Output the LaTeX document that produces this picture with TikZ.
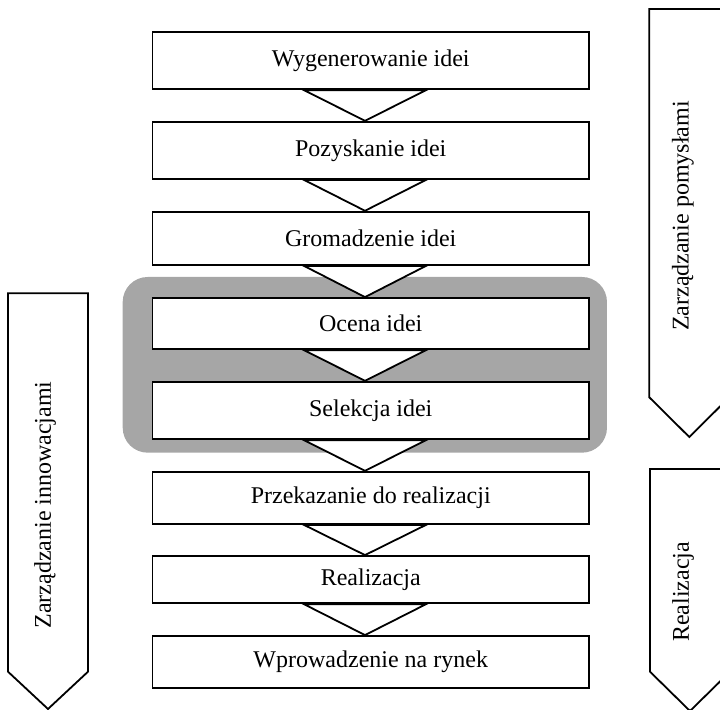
\documentclass[tikz,border=0pt]{standalone}
\usepackage{fontspec}
\setmainfont{Liberation Serif}
\usetikzlibrary{calc}
\definecolor{hlgray}{RGB}{166,166,166}
\tikzset{
  stepbox/.style={draw=black, fill=white, line width=0.9pt, minimum width=218.25pt, inner sep=0pt, font=\fontsize{12}{14}\selectfont},
  flowtri/.style={draw=black, fill=white, line width=0.9pt, line join=miter},
  sidearrow/.style={draw=black, fill=white, line width=0.9pt, line join=miter},
  sidelabel/.style={rotate=90, inner sep=0pt, font=\fontsize{12}{14}\selectfont},
}
\begin{document}
\begin{tikzpicture}[x=0.5pt, y=-0.5pt]
\useasboundingbox (0,0) rectangle (720,710);
% highlight
\fill[hlgray, rounded corners=12.5pt] (122.7,277) rectangle (607,452.7);
% boxes
\node[stepbox, minimum height=28.8pt]  (b1) at (370.75,60.5)  {Wygenerowanie idei};
\node[stepbox, minimum height=28.65pt] (b2) at (370.75,150.35) {Pozyskanie idei};
\node[stepbox, minimum height=26.65pt] (b3) at (370.75,238.35) {Gromadzenie idei};
\node[stepbox, minimum height=25.65pt] (b4) at (370.75,323.65) {Ocena idei};
\node[stepbox, minimum height=28.8pt]  (b5) at (370.75,410.5) {Selekcja idei};
\node[stepbox, minimum height=26.15pt] (b6) at (370.75,497.85) {Przekazanie do realizacji};
\node[stepbox, minimum height=23.65pt] (b7) at (370.75,579.65) {Realizacja};
\node[stepbox, minimum height=25.85pt] (b8) at (370.75,661.85) {Wprowadzenie na rynek};
% triangles between boxes
\foreach \a/\b in {b1/b2,b2/b3,b3/b4,b4/b5,b5/b6,b6/b7,b7/b8}{
  \draw[flowtri] ($(\a.south)+(-66.75,0)$) -- ($(\b.north)+(-5.75,0)$) -- ($(\a.south)+(55.25,0)$) -- cycle;
}
% left arrow
\draw[sidearrow] (8,293.3) -- (88,293.3) -- (88,671.7) -- (48,709) -- (8,671.7) -- cycle;
\node[sidelabel] (innov) at (45,505) {Zarządzanie innowacjami};
% right top arrow
\draw[sidearrow] (649.3,9) -- (729.3,9) -- (729.3,397.3) -- (689.3,437) -- (649.3,397.3) -- cycle;
\node[sidelabel] (pomysl) at (683,216) {Zarządzanie pomysłami};
% right bottom arrow
\draw[sidearrow] (650,469) -- (730,469) -- (730,671.7) -- (690,711) -- (650,671.7) -- cycle;
\node[sidelabel] (realiz) at (683,592) {Realizacja};
\end{tikzpicture}
\end{document}
